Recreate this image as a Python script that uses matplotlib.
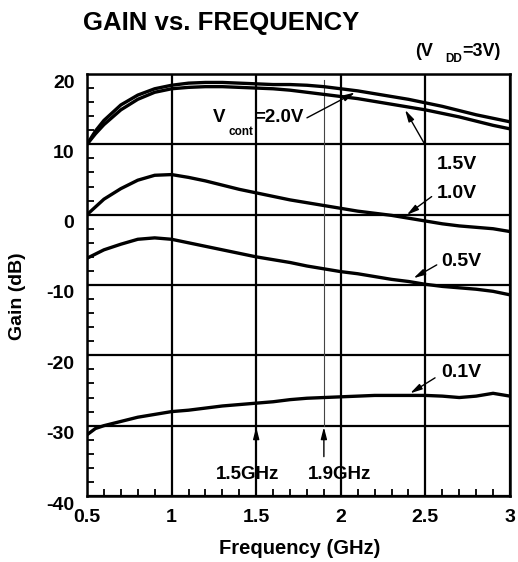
import matplotlib
matplotlib.use("Agg")
import matplotlib.pyplot as plt
from matplotlib.ticker import MultipleLocator
from matplotlib.transforms import ScaledTranslation

plt.rcParams['font.family'] = ['Liberation Sans', 'DejaVu Sans']
plt.rcParams['font.weight'] = 'bold'
plt.rcParams['axes.unicode_minus'] = False

# frequency points (GHz)
freq = [0.5, 0.55, 0.6, 0.7, 0.8, 0.9, 1.0, 1.1, 1.2, 1.3, 1.4, 1.5, 1.6, 1.7,
        1.8, 1.9, 2.0, 2.1, 2.2, 2.3, 2.4, 2.5, 2.6, 2.7, 2.8, 2.9, 3.0]

# gain (dB) for each control voltage
gain_20 = [10.0, 11.9, 13.4, 15.6, 17.0, 17.9, 18.4, 18.7, 18.8, 18.8, 18.7, 18.6, 18.5, 18.5,
           18.4, 18.2, 17.9, 17.6, 17.2, 16.8, 16.4, 15.9, 15.4, 14.8, 14.2, 13.7, 13.2]
gain_15 = [10.0, 11.5, 12.8, 14.9, 16.4, 17.4, 17.9, 18.1, 18.2, 18.2, 18.1, 18.0, 17.9, 17.7,
           17.4, 17.1, 16.8, 16.5, 16.1, 15.7, 15.3, 14.9, 14.4, 13.9, 13.3, 12.7, 12.2]
gain_10 = [0.0, 1.1, 2.2, 3.7, 4.9, 5.6, 5.7, 5.3, 4.8, 4.2, 3.6, 3.1, 2.6, 2.1,
           1.7, 1.3, 0.9, 0.5, 0.2, -0.1, -0.5, -0.9, -1.3, -1.6, -1.8, -2.0, -2.4]
gain_05 = [-6.2, -5.6, -5.0, -4.2, -3.5, -3.3, -3.5, -4.0, -4.5, -5.0, -5.5, -6.0, -6.4, -6.8,
           -7.3, -7.7, -8.1, -8.4, -8.8, -9.2, -9.5, -9.9, -10.2, -10.4, -10.6, -10.9, -11.4]
gain_01 = [-31.3, -30.4, -30.0, -29.4, -28.8, -28.4, -28.0, -27.8, -27.5, -27.2, -27.0, -26.8, -26.6, -26.3,
           -26.1, -26.0, -25.9, -25.8, -25.7, -25.7, -25.7, -25.7, -25.8, -26.0, -25.8, -25.4, -25.8]

marker_freqs = [1.5, 1.9]
marker_labels = ['1.5GHz', '1.9GHz']

fig = plt.figure(figsize=(5.18, 5.62), dpi=100)
ax = fig.add_axes([87 / 518, 66 / 562, 423 / 518, 422 / 562])

for g in [gain_20, gain_15, gain_10, gain_05, gain_01]:
    ax.plot(freq, g, color='black', lw=2.4, solid_capstyle='butt', zorder=3)

ax.set_xlim(0.5, 3.0)
ax.set_ylim(-40, 20)
ax.xaxis.set_minor_locator(MultipleLocator(0.1))
ax.yaxis.set_major_locator(MultipleLocator(10))
ax.yaxis.set_minor_locator(MultipleLocator(2))
ax.set_xticks([0.5, 1, 1.5, 2, 2.5, 3])
ax.set_xticklabels(['0.5', '1', '1.5', '2', '2.5', '3'])
ax.grid(True, which='major', color='black', lw=1.6)
ax.tick_params(which='major', length=0, labelsize=14, pad=9)
ax.tick_params(which='minor', direction='in', length=5, width=1.3)
ax.tick_params(axis='x', which='major', pad=9)
for s in ax.spines.values():
    s.set_linewidth(1.8)
for lab in ax.get_yticklabels():
    lab.set_transform(lab.get_transform() + ScaledTranslation(0, -0.07, fig.dpi_scale_trans))

# thin marker line at 1.9 GHz
ax.plot([1.9, 1.9], [19.1, -30], color='#444444', lw=0.8, zorder=2)

arrow = dict(arrowstyle='-|>,head_width=0.18,head_length=0.7', color='black', lw=1, shrinkA=0, shrinkB=0)
for f in marker_freqs:
    ax.annotate('', xy=(f, -30.2), xytext=(f, -34.4), arrowprops=arrow)
ax.text(1.449, -36.9, marker_labels[0], ha='center', va='center', fontsize=13.5)
ax.text(1.991, -36.9, marker_labels[1], ha='center', va='center', fontsize=13.5)

# curve labels
ax.text(1.246, 13.77, 'V', ha='left', va='center', fontsize=13.5)
ax.text(1.335, 11.8, 'cont', ha='left', va='center', fontsize=8.5)
ax.text(1.779, 13.77, '=2.0V', ha='right', va='center', fontsize=13.5)
ax.annotate('', xy=(2.084, 17.37), xytext=(1.80, 13.77), arrowprops=arrow)

ax.text(2.567, 7.08, '1.5V', ha='left', va='center', fontsize=14)
ax.annotate('', xy=(2.38, 14.9), xytext=(2.498, 9.93), arrowprops=arrow)

ax.text(2.567, 3.06, '1.0V', ha='left', va='center', fontsize=14)
ax.annotate('', xy=(2.39, -0.03), xytext=(2.537, 2.57), arrowprops=arrow)

ax.text(2.596, -6.67, '0.5V', ha='left', va='center', fontsize=14)
ax.annotate('', xy=(2.43, -9.03), xytext=(2.567, -7.14), arrowprops=arrow)

ax.text(2.596, -22.5, '0.1V', ha='left', va='center', fontsize=14)
ax.annotate('', xy=(2.41, -25.4), xytext=(2.557, -23.2), arrowprops=arrow)

# titles and axis labels
fig.text(83 / 518, 1 - 30 / 562, 'GAIN vs. FREQUENCY', ha='left', va='baseline', fontsize=18.5)
fig.text(300 / 518, 1 - 549 / 562, 'Frequency (GHz)', ha='center', va='center', fontsize=14.5)
fig.text(18 / 518, 1 - 296 / 562, 'Gain (dB)', ha='center', va='center', rotation=90, fontsize=14)

fig.text(415 / 518, 1 - 52 / 562, '(V', ha='left', va='center', fontsize=13)
fig.text(445 / 518, 1 - 58.5 / 562, 'DD', ha='left', va='center', fontsize=8.5)
fig.text(501 / 518, 1 - 52 / 562, '=3V)', ha='right', va='center', fontsize=13)

fig.savefig('out.png', dpi=100)
